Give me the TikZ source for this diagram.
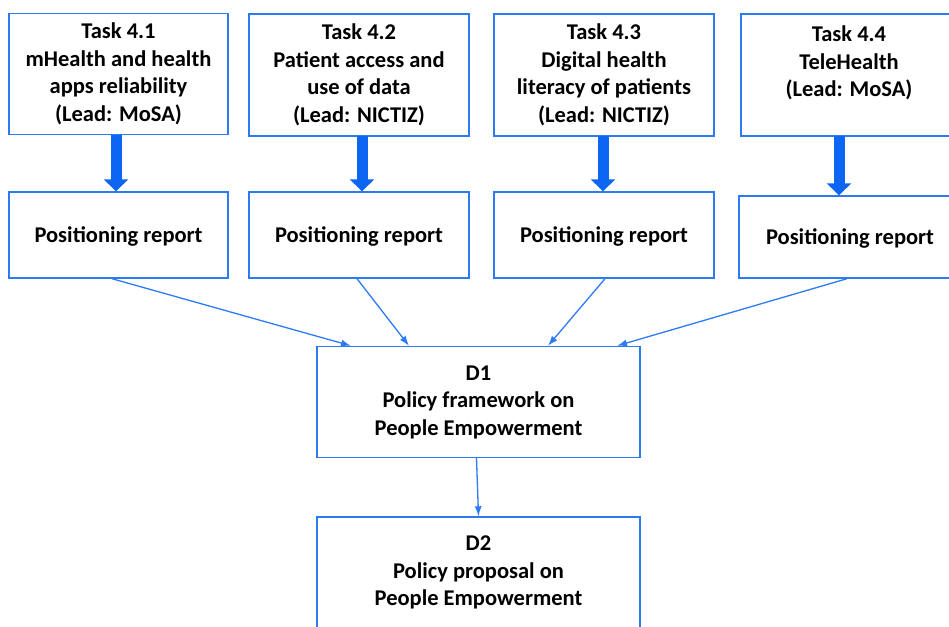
\documentclass[tikz,border=0pt]{standalone}
\usepackage{fontspec}
\setmainfont{Carlito}
\usetikzlibrary{arrows.meta,calc}
\definecolor{boxblue}{RGB}{45,122,245}
\definecolor{fatblue}{RGB}{12,102,242}
\begin{document}
\begin{tikzpicture}[x=1pt,y=-1pt,
  box/.style={draw=boxblue, line width=1.4pt, rectangle, inner sep=0pt,
    font=\bfseries\fontsize{22.5}{27.5}\selectfont, align=center, text=black},
  txt/.style={font=\bfseries\fontsize{22.5}{27.5}\selectfont, align=center, text=black, inner sep=0pt},
  rep/.style={box, text depth=0pt},
  fat/.style={draw=fatblue, line width=11pt, -{Triangle[width=24pt,length=12pt]}},
  link/.style={draw=boxblue, line width=1.3pt, -{Latex[width=7pt,length=10pt]}}]
\useasboundingbox (0,0) rectangle (949,626);
\clip (0,0) rectangle (949,626);
% top task boxes
\node[box, minimum width=219pt, minimum height=121pt] (t1) at (118.5,74)
  {Task 4.1\\mHealth and health\\apps reliability\\(Lead: MoSA)};
\node[box, minimum width=220pt, minimum height=122pt] (t2) at (359,75)
  {Task 4.2\\Patient access and\\use of data\\(Lead: NICTIZ)};
\node[box, minimum width=220pt, minimum height=122pt] (t3) at (604,75)
  {Task 4.3\\Digital health\\literacy of patients\\(Lead: NICTIZ)};
\node[box, minimum width=220pt, minimum height=122pt] (t4) at (851,75) {};
\node[txt, anchor=north] (t4text) at (849,26) {Task 4.4\\TeleHealth\\(Lead: MoSA)};
% report boxes
\node[rep, minimum width=219pt, minimum height=86pt] (r1) at (118.5,235) {Positioning report};
\node[rep, minimum width=220pt, minimum height=86pt] (r2) at (359,235) {Positioning report};
\node[rep, minimum width=220pt, minimum height=86pt] (r3) at (604,235) {Positioning report};
\node[rep, minimum width=222pt, minimum height=82pt] (r4) at (850,237) {Positioning report};
% deliverables
\node[box, minimum width=323pt, minimum height=111pt] (d1) at (478.5,402)
  {D1\\Policy framework on\\People Empowerment};
\node[box, minimum width=323pt, minimum height=111pt] (d2) at (478.5,572.5)
  {D2\\Policy proposal on\\People Empowerment};
% thick arrows
\coordinate (a1) at (116,135);
\coordinate (a2) at (362,136);
\coordinate (a3) at (603,136);
\coordinate (a4) at (839,136);
\draw[fat] (a1) -- (a1 |- r1.north);
\draw[fat] (a2) -- (a2 |- r2.north);
\draw[fat] (a3) -- (a3 |- r3.north);
\draw[fat] (a4) -- (a4 |- r4.north);
% thin arrows
\draw[link] ($(r1.south)+(-6.5,0)$) -- ($(d1.north)+(-127.5,0)$);
\draw[link] ($(r2.south)+(-2,0)$) -- ($(d1.north)+(-69.5,0)$);
\draw[link] ($(r3.south)+(1,0)$) -- ($(d1.north)+(69.5,0)$);
\draw[link] ($(r4.south)+(-3,0)$) -- ($(d1.north)+(138.5,0)$);
\draw[link] ($(d1.south)+(-2,0)$) -- (d2.north);
\end{tikzpicture}
\end{document}
